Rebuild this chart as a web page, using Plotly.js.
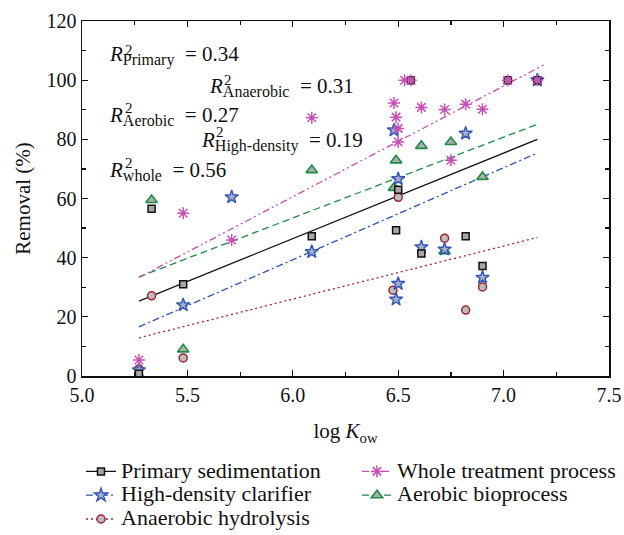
<!DOCTYPE html>
<html>
<head>
<meta charset="utf-8">
<script src="https://cdn.plot.ly/plotly-3.0.1.min.js"></script>
<style>html,body{margin:0;padding:0;background:#fff;}</style>
</head>
<body>
<div id="chart" style="width:624px;height:535px;"></div>
<script>
// ---- data ----
const xPrimary = [5.27, 5.33, 5.48, 6.09, 6.49, 6.50, 6.56, 6.61, 6.82, 6.90, 7.02, 7.16];
const yPrimary = [0.8, 56.5, 31.0, 47.2, 49.3, 63.0, 100, 41.4, 47.2, 37.2, 100, 100];

const xHDC = [5.27, 5.48, 5.71, 6.09, 6.48, 6.50, 6.50, 6.49, 6.61, 6.72, 6.82, 6.90, 7.16];
const yHDC = [2.0, 24.0, 60.5, 42.0, 83.1, 66.6, 31.2, 25.9, 43.6, 42.8, 82.0, 33.3, 100];

const xAnaerobic = [5.27, 5.33, 5.48, 6.475, 6.50, 6.72, 6.82, 6.90];
const yAnaerobic = [2.4, 27.1, 6.1, 29.0, 60.4, 46.6, 22.3, 30.1];

const xAerobic = [5.33, 5.48, 6.09, 6.48, 6.49, 6.61, 6.72, 6.75, 6.90];
const yAerobic = [59.5, 9.0, 69.6, 63.6, 72.9, 77.8, 42.2, 79.1, 67.3];

const xWhole = [5.27, 5.48, 5.71, 6.09, 6.48, 6.49, 6.50, 6.50, 6.53, 6.56, 6.61, 6.72, 6.75, 6.82, 6.90, 7.02, 7.16];
const yWhole = [5.4, 55.0, 46.0, 87.3, 92.3, 87.5, 83.7, 79.1, 100, 100, 90.8, 90.1, 72.9, 91.9, 90.2, 100, 100];

// fitted regression lines (end points)
const fitX = [5.27, 7.16];
const fitPrimary = [25.3, 80.0];
const fitHDC = [16.6, 75.4];
const fitAnaerobic = [12.9, 46.8];
const fitAerobic = [33.5, 85.1];
const fitXWhole = [5.27, 7.20];
const fitWhole = [33.3, 105.5];

const seriesNames = ['Primary sedimentation', 'Whole treatment process', 'High-density clarifier', 'Aerobic bioprocess', 'Anaerobic hydrolysis'];
const r2Labels = ['Primary', 'Anaerobic', 'Aerobic', 'High-density', 'whole'];
const r2Values = ['0.34', '0.31', '0.27', '0.19', '0.56'];
const xTicks = [5.0, 5.5, 6.0, 6.5, 7.0, 7.5];
const yTicks = [0, 20, 40, 60, 80, 100, 120];

// ---- styles ----
const FONT = 'Liberation Serif, Times New Roman, serif';
const C = {
  primary: {line: '#111111', fill: '#a6a6a6'},
  hdc: {line: '#2f56b8', fill: '#a9afc6'},
  ana: {line: '#a3222c', fill: '#bdbdbd'},
  aer: {line: '#1f8c45', fill: '#a9b0a9'},
  whole: {line: '#c64fb4'}
};
const DASH = {
  primary: 'solid',
  hdc: '7px,3px,2px,3px',
  ana: '2px,3px',
  aer: '7px,4px',
  whole: '7px,3px,2px,3px,2px,3px'
};
const MK = {
  primary: {symbol: 'square', size: 7, color: C.primary.fill, line: {color: C.primary.line, width: 1.5}},
  hdc: {symbol: 'star', size: 10, color: C.hdc.fill, line: {color: C.hdc.line, width: 1.4}},
  ana: {symbol: 'circle', size: 8, color: C.ana.fill, line: {color: C.ana.line, width: 1.5}},
  aer: {symbol: 'triangle-up', size: 10, color: C.aer.fill, line: {color: C.aer.line, width: 1.6}},
  whole: {symbol: 'asterisk-open', size: 10, color: C.whole.line, line: {color: C.whole.line, width: 1.5}}
};

function fitTrace(x, y, key) {
  return {x: x, y: y, mode: 'lines', type: 'scatter', showlegend: false, hoverinfo: 'skip',
          line: {color: C[key].line, width: 1.3, dash: DASH[key]}};
}
function ptTrace(x, y, key) {
  return {x: x, y: y, mode: 'markers', type: 'scatter', showlegend: false, marker: MK[key]};
}
function legTrace(name, key, legendId) {
  return {x: [null], y: [null], mode: 'lines+markers', type: 'scatter', legend: legendId,
          name: '<span style="font-size:22px">' + name + '</span>',
          line: {color: C[key].line, width: 1.3, dash: DASH[key]}, marker: MK[key]};
}

const data = [
  fitTrace(fitX, fitAnaerobic, 'ana'),
  fitTrace(fitX, fitHDC, 'hdc'),
  fitTrace(fitX, fitPrimary, 'primary'),
  fitTrace(fitX, fitAerobic, 'aer'),
  fitTrace(fitXWhole, fitWhole, 'whole'),
  ptTrace(xAnaerobic, yAnaerobic, 'ana'),
  ptTrace(xAerobic, yAerobic, 'aer'),
  ptTrace(xHDC, yHDC, 'hdc'),
  ptTrace(xPrimary, yPrimary, 'primary'),
  ptTrace(xWhole, yWhole, 'whole'),
  legTrace(seriesNames[0], 'primary', 'legend'),
  legTrace(seriesNames[2], 'hdc', 'legend'),
  legTrace(seriesNames[4], 'ana', 'legend'),
  legTrace(seriesNames[1], 'whole', 'legend2'),
  legTrace(seriesNames[3], 'aer', 'legend2')
];

// pixel -> data helpers for label placement
const PX0 = 82, PXU = 210.8, PY0 = 376, PYU = 2.958;
const dx = px => 5 + (px - PX0) / PXU;
const dy = py => (PY0 - py) / PYU;
const ML = 10, GW = 609, MT = 21, GH = 355;
const paperX = px => (px - ML) / GW;
const paperY = py => (MT + GH - py) / GH;

// R^2 labels: [R left px, R centre py, '2' left px, '2' centre py]
const r2Pos = [
  [107, 56, 122.5, 50],
  [207, 87, 221.5, 80],
  [107, 116, 122.5, 108],
  [199, 142, 213.5, 132],
  [107, 171, 122.5, 163]
];
const annotations = [];
r2Labels.forEach((lab, i) => {
  const p = r2Pos[i];
  annotations.push({xref: 'x', yref: 'y', x: dx(p[0]), y: dy(p[1]), xanchor: 'left', yanchor: 'middle',
    text: '<i>R</i><sub><span style="font-size:16px">' + lab + '</span></sub>&nbsp;&nbsp;= ' + r2Values[i], showarrow: false,
    font: {family: FONT, size: 21, color: '#111'}});
  annotations.push({xref: 'x', yref: 'y', x: dx(p[2]), y: dy(p[3]), xanchor: 'left', yanchor: 'middle',
    text: '2', showarrow: false, font: {family: FONT, size: 15, color: '#111'}});
});

const axisCommon = {
  showline: true, linecolor: '#111', linewidth: 1.5, mirror: 'ticks',
  ticks: 'inside', ticklen: 6, tickwidth: 1.3, tickcolor: '#111',
  showgrid: false, zeroline: false, automargin: false,
  tickfont: {family: FONT, size: 20, color: '#111'}
};

const legendCommon = {orientation: 'v', xanchor: 'left', yanchor: 'top',
  font: {family: FONT, size: 16, color: '#111'}, bgcolor: 'rgba(0,0,0,0)', borderwidth: 0};

const layout = {
  width: 624, height: 535,
  margin: {l: ML, r: 624 - ML - GW, t: MT, b: 535 - MT - GH, autoexpand: false},
  paper_bgcolor: '#fff', plot_bgcolor: '#fff',
  font: {family: FONT, color: '#111'},
  showlegend: true,
  legend: Object.assign({}, legendCommon, {x: paperX(81), y: paperY(454.5)}),
  legend2: Object.assign({}, legendCommon, {x: paperX(357), y: paperY(454.5)}),
  xaxis: Object.assign({}, axisCommon, {
    domain: [paperX(82), paperX(609)],
    range: [5, 7.5], tickvals: xTicks, ticktext: xTicks.map(v => v.toFixed(1)),
    minor: {dtick: 0.25, ticks: 'inside', ticklen: 4, tickcolor: '#111', tickwidth: 1.2},
    title: {text: 'log <i>K</i><sub>ow</sub>', standoff: 19, font: {family: FONT, size: 21, color: '#111'}}
  }),
  yaxis: Object.assign({}, axisCommon, {
    range: [0, 120], tickvals: yTicks,
    minor: {dtick: 10, ticks: 'inside', ticklen: 4, tickcolor: '#111', tickwidth: 1.2},
    title: {text: 'Removal (%)', font: {family: FONT, size: 21, color: '#111'}}
  }),
  annotations: annotations
};

Plotly.newPlot('chart', data, layout, {staticPlot: true, displayModeBar: false});
</script>
</body>
</html>
